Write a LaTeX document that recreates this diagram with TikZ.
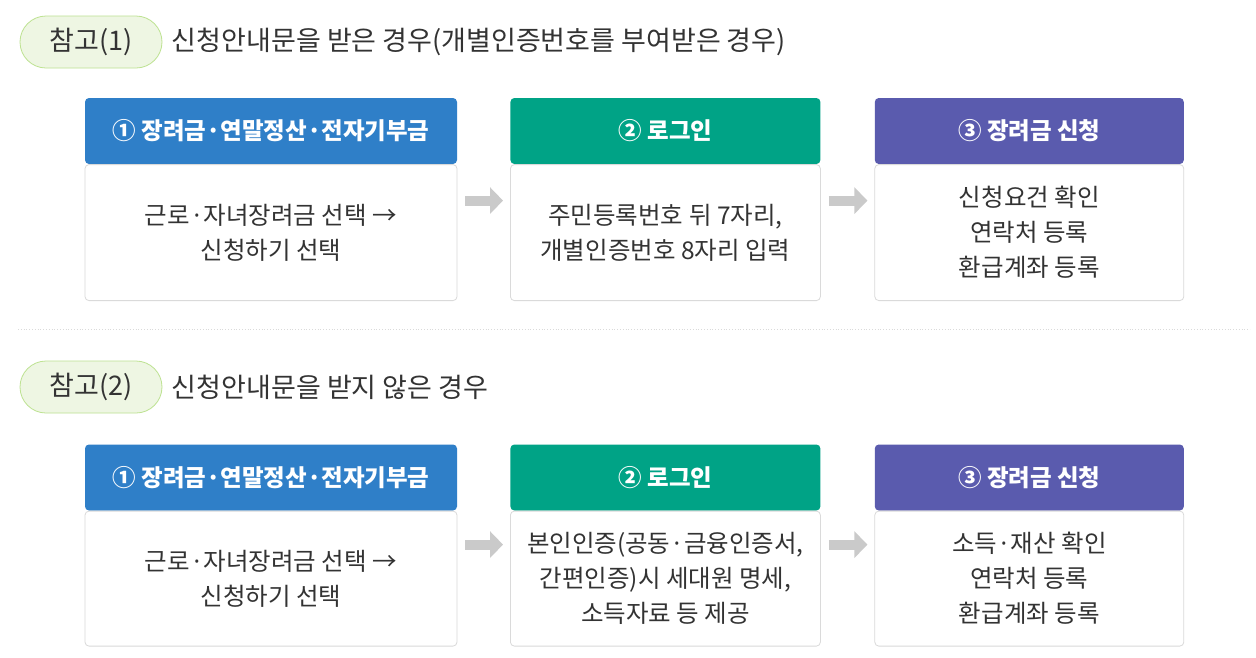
\documentclass[tikz,border=0pt]{standalone}
\usepackage{fontspec}
\setmainfont{Noto Sans CJK KR}
\usepackage{xcolor}
\usetikzlibrary{arrows.meta,positioning}
\definecolor{blaa}{HTML}{2F7FC8}
\definecolor{groenn}{HTML}{00A386}
\definecolor{lilla}{HTML}{5A5BAE}
\definecolor{tekst}{HTML}{333333}
\definecolor{ramme}{HTML}{DADADA}
\definecolor{pilgraa}{HTML}{CACACA}
\definecolor{merkefyll}{HTML}{EEF6E3}
\definecolor{merkekant}{HTML}{BDE291}
\tikzset{
    %Define style for the small tags
    merke/.style={
           rectangle,
           rounded corners=26pt,
           draw=merkekant, fill=merkefyll, thick,
           minimum width=142pt,
           minimum height=52pt,
           text=tekst,
           font=\fontsize{27}{30}\selectfont},
    %Define style for the titles
    overskrift/.style={
           text=tekst,
           font=\fontsize{27}{30}\selectfont},
    %Define style for the headings
    hode/.style={
           rectangle,
           rounded corners=4pt,
           inner sep=0pt,
           minimum height=66pt,
           text=white,
           font=\bfseries\fontsize{23.5}{26}\selectfont},
    %Define style for the boxes
    boks/.style={
           rectangle,
           rounded corners=4pt,
           draw=ramme, thick,
           inner sep=0pt,
           minimum height=136pt,
           align=center,
           text=tekst,
           font=\fontsize{24.5}{35}\selectfont},
    % Define arrow style
    gpil/.style={
           -{Triangle[length=13pt,width=26pt]},
           line width=10pt,
           draw=pilgraa,
           shorten <=8pt,
           shorten >=7pt,}
}
\begin{document}
\begin{tikzpicture}[x=1pt,y=-1pt]
    \useasboundingbox[fill=white] (0,0) rectangle (1256,657);
    % first case
    \node[merke] (m1) at (91,42) {참고(1)};
    \node[overskrift, right=6pt of m1] (t1) {신청안내문을 받은 경우(개별인증번호를 부여받은 경우)};
    \node[hode, fill=blaa, minimum width=372pt] (h11) at (271,131) {① 장려금·연말정산·전자기부금};
    \node[hode, fill=groenn, minimum width=310pt, right=53pt of h11] (h12) {② 로그인};
    \node[hode, fill=lilla, minimum width=309pt, right=54pt of h12] (h13) {③ 장려금 신청};
    \node[boks, minimum width=372pt, below=0pt of h11] (b11) {근로·자녀장려금 선택 →\\신청하기 선택};
    \node[boks, minimum width=310pt, below=0pt of h12] (b12) {주민등록번호 뒤 7자리,\\개별인증번호 8자리 입력};
    \node[boks, minimum width=309pt, below=0pt of h13] (b13) {신청요건 확인\\연락처 등록\\환급계좌 등록};
    \draw[gpil] ([yshift=32pt]b11.east) to ([yshift=32pt]b12.west);
    \draw[gpil] ([yshift=32pt]b12.east) to ([yshift=32pt]b13.west);
    % separator
    \coordinate (s1) at (18,329);
    \coordinate (s2) at (1250,329);
    \draw[ramme, dotted, thick] (s1) -- (s2);
    % second case
    \node[merke] (m2) at (91,387) {참고(2)};
    \node[overskrift, right=6pt of m2] (t2) {신청안내문을 받지 않은 경우};
    \node[hode, fill=blaa, minimum width=372pt] (h21) at (271,477.5) {① 장려금·연말정산·전자기부금};
    \node[hode, fill=groenn, minimum width=310pt, right=53pt of h21] (h22) {② 로그인};
    \node[hode, fill=lilla, minimum width=309pt, right=54pt of h22] (h23) {③ 장려금 신청};
    \node[boks, minimum width=372pt, minimum height=135pt, below=0pt of h21] (b21) {근로·자녀장려금 선택 →\\신청하기 선택};
    \node[boks, minimum width=310pt, minimum height=135pt, below=0pt of h22] (b22) {본인인증(공동·금융인증서,\\간편인증)시 세대원 명세,\\소득자료 등 제공};
    \node[boks, minimum width=309pt, minimum height=135pt, below=0pt of h23] (b23) {소득·재산 확인\\연락처 등록\\환급계좌 등록};
    \draw[gpil] ([yshift=34pt]b21.east) to ([yshift=34pt]b22.west);
    \draw[gpil] ([yshift=34pt]b22.east) to ([yshift=34pt]b23.west);
\end{tikzpicture}
\end{document}
